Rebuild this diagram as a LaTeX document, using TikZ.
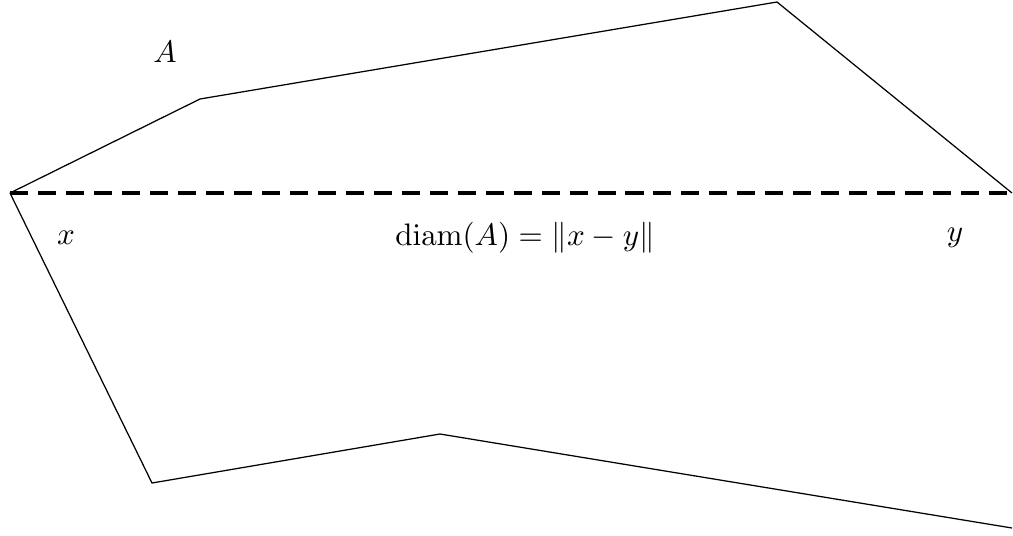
\documentclass[tikz,border=0pt]{standalone}
\usepackage{amsmath,amssymb}
\usepackage{tikz}
\usetikzlibrary{calc,positioning}
\tikzset{
 dm boundary/.style={line width=.4pt},
 dm diameter/.style={line width=1pt,dash pattern=on 5.8pt off 3.2pt},
 dm label/.style={font=\normalsize,inner sep=1pt}
}
\begin{document}
\begin{tikzpicture}[x=.0113cm,y=-.0113cm]
 \useasboundingbox (0,0) rectangle (1013,535);
 \coordinate (px) at (10,193);
 \coordinate (u1) at (200,99);
 \coordinate (u2) at (777,2);
 \coordinate (py) at (1012,193);
 \coordinate (l1) at (152,483);
 \coordinate (l2) at (440,434);
 \coordinate (l3) at (1012,528);

 \draw[dm boundary] (px)--(u1)--(u2)--(py);
 \draw[dm boundary] (px)--(l1)--(l2)--(l3);
 \draw[dm diameter] (px)--(py);

 \node[dm label] (lA) at (165,52) {$A$};
 \node[dm label] (lx) at (66,238) {$x$};
 \node[dm label] (ly) at (955,238) {$y$};
 \node[dm label] (ld) at (525,238) {$\operatorname{diam}(A)=\|x-y\|$};
\end{tikzpicture}
\end{document}
